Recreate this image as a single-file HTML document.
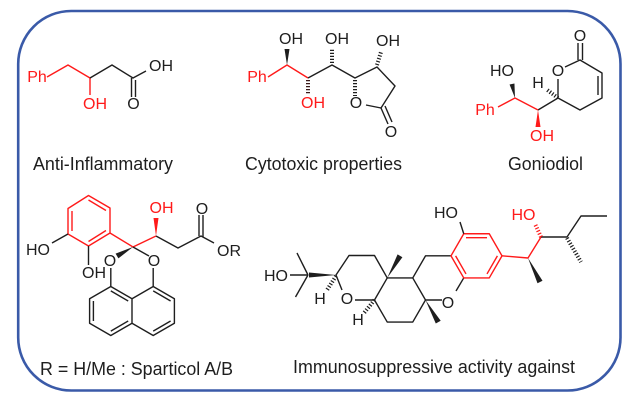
<!DOCTYPE html>
<html><head><meta charset="utf-8"><style>
html,body{margin:0;padding:0;background:#fff;}
svg{display:block;}
text{font-family:"Liberation Sans",Arial,sans-serif;}
.l{font-size:16px;text-anchor:middle;}
.c{font-size:18px;fill:#1e1e1e;}
.k{fill:#1e1e1e;}
.r{fill:#ff1a1a;}
</style></head><body>
<svg width="640" height="405" viewBox="0 0 640 405" xmlns="http://www.w3.org/2000/svg">
<rect x="0" y="0" width="640" height="405" fill="#fff"/>
<rect x="18.2" y="11" width="602.3" height="379.5" rx="53" ry="53" fill="none" stroke="#3a5aa8" stroke-width="2.6"/>

<!-- Molecule 1 -->
<g fill="none" stroke-width="1.4" stroke-linejoin="round">
<polyline points="47,77 68,65 90,78" stroke="#ff1a1a"/>
<line x1="90" y1="78" x2="90" y2="95" stroke="#ff1a1a"/>
<polyline points="90,78 112,65 133,78 146,71" stroke="#1e1e1e"/>
<line x1="131.5" y1="78" x2="131.5" y2="97" stroke="#1e1e1e"/>
<line x1="135.5" y1="80" x2="135.5" y2="97" stroke="#1e1e1e"/>
</g>
<text class="l r" x="37" y="82">Ph</text>
<text class="l r" x="95" y="109">OH</text>
<text class="l k" x="161" y="71">OH</text>
<text class="l k" x="133.5" y="109">O</text>
<text class="c" x="33" y="170" textLength="140" lengthAdjust="spacingAndGlyphs">Anti-Inflammatory</text>

<!-- Molecule 2 -->
<g fill="none" stroke-width="1.4" stroke-linejoin="round">
<polyline points="268,77 287,65 308,78" stroke="#ff1a1a"/>
<polyline points="308,78 332,65 355,78 377,67 395,86 381,108 366,105" stroke="#1e1e1e"/>
<line x1="381" y1="108" x2="388" y2="124" stroke="#1e1e1e"/>
<line x1="385" y1="106" x2="392" y2="122" stroke="#1e1e1e"/>
</g>
<g fill="none" stroke-width="4" stroke-dasharray="1.2 1.8">
<line x1="308" y1="80" x2="308" y2="95" stroke="#3a1a1a"/>
<line x1="332" y1="63" x2="332" y2="49" stroke="#1e1e1e"/>
<line x1="355" y1="80" x2="355" y2="96" stroke="#1e1e1e"/>
<line x1="377" y1="65" x2="381" y2="52" stroke="#1e1e1e"/>
</g>
<polygon points="287,65 284.5,49 289.5,49" fill="#1e1e1e"/>
<text class="l r" x="257" y="82">Ph</text>
<text class="l k" x="291" y="44">OH</text>
<text class="l r" x="313" y="108">OH</text>
<text class="l k" x="337" y="44">OH</text>
<text class="l k" x="356" y="108">O</text>
<text class="l k" x="388" y="46">OH</text>
<text class="l k" x="391" y="137">O</text>
<text class="c" x="245" y="170" textLength="157" lengthAdjust="spacingAndGlyphs">Cytotoxic properties</text>

<!-- Molecule 3 -->
<g fill="none" stroke-width="1.4" stroke-linejoin="round">
<line x1="578" y1="43" x2="578" y2="60" stroke="#1e1e1e"/>
<line x1="582.5" y1="43" x2="582.5" y2="60" stroke="#1e1e1e"/>
<polyline points="565,67 580,60 602,73 602,98 580,110 558,98 538,110" stroke="#1e1e1e"/>
<line x1="558" y1="98" x2="558" y2="79" stroke="#1e1e1e"/>
<line x1="598" y1="76" x2="598" y2="95" stroke="#1e1e1e"/>
<polyline points="538,110 515,98 498,107" stroke="#ff1a1a"/>
</g>
<line x1="558" y1="98" x2="546" y2="89" stroke="#1e1e1e" stroke-width="4" stroke-dasharray="1.2 1.8"/>
<polygon points="538,110 535.5,127 540.5,127" fill="#ff1a1a"/>
<polygon points="515,98 514.45,83.48 509.55,84.52" fill="#1e1e1e"/>
<text class="l k" x="580" y="41">O</text>
<text class="l k" x="558" y="76">O</text>
<text class="l k" x="538" y="88">H</text>
<text class="l k" x="502" y="76">HO</text>
<text class="l r" x="485" y="115">Ph</text>
<text class="l r" x="542" y="141">OH</text>
<text class="c" x="508" y="170" textLength="75" lengthAdjust="spacingAndGlyphs">Goniodiol</text>

<!-- Molecule 4 -->
<g fill="none" stroke-width="1.4" stroke-linejoin="round">
<polygon points="88.5,195.5 110,208 110,233 88.5,246 68,234 68,208.5" stroke="#ff1a1a"/>
<line x1="88.5" y1="200" x2="106" y2="210.5" stroke="#ff1a1a"/>
<line x1="72" y1="231" x2="72" y2="211" stroke="#ff1a1a"/>
<line x1="106" y1="230.5" x2="88.5" y2="241.5" stroke="#ff1a1a"/>
<polyline points="110,233 133,247 156,236" stroke="#ff1a1a"/>
<line x1="68" y1="234" x2="52" y2="243" stroke="#1e1e1e"/>
<line x1="88.5" y1="246" x2="88.5" y2="265" stroke="#1e1e1e"/>
<polyline points="156,236 178,248 201,236 214,243" stroke="#1e1e1e"/>
<line x1="199" y1="236" x2="199" y2="215" stroke="#1e1e1e"/>
<line x1="203" y1="237" x2="203" y2="215" stroke="#1e1e1e"/>
<line x1="133" y1="247" x2="149" y2="256" stroke="#1e1e1e"/>
<line x1="110.8" y1="268" x2="110.8" y2="286.5" stroke="#1e1e1e"/>
<line x1="153.2" y1="268" x2="153.2" y2="286.5" stroke="#1e1e1e"/>
<polygon points="110.8,286.5 132,298.75 132,323.25 110.8,335.5 89.6,323.25 89.6,298.75" stroke="#1e1e1e"/>
<polyline points="132,298.75 153.2,286.5 174.4,298.75 174.4,323.25 153.2,335.5 132,323.25" stroke="#1e1e1e"/>
<line x1="93.4" y1="321" x2="93.4" y2="301" stroke="#1e1e1e"/>
<line x1="110.8" y1="290.9" x2="128.2" y2="301" stroke="#1e1e1e"/>
<line x1="128.2" y1="321" x2="110.8" y2="331.1" stroke="#1e1e1e"/>
<line x1="153.2" y1="290.9" x2="170.6" y2="301" stroke="#1e1e1e"/>
<line x1="170.6" y1="321" x2="153.2" y2="331.1" stroke="#1e1e1e"/>
</g>
<polygon points="133,247 118.4,258.4 115.6,253.6" fill="#1e1e1e"/>
<polygon points="156,236 153.5,218 158.5,218" fill="#ff1a1a"/>
<text class="l k" x="38" y="255">HO</text>
<text class="l k" x="94" y="278">OH</text>
<text class="l r" x="161.5" y="213">OH</text>
<text class="l k" x="202" y="214">O</text>
<text class="l k" x="229" y="256">OR</text>
<text class="l k" x="110" y="266">O</text>
<text class="l k" x="154" y="266">O</text>
<text class="c" x="40" y="375" textLength="193" lengthAdjust="spacingAndGlyphs">R = H/Me : Sparticol A/B</text>

<!-- Molecule 5 -->
<g fill="none" stroke-width="1.4" stroke-linejoin="round">
<line x1="290" y1="275" x2="308" y2="275" stroke="#1e1e1e"/>
<line x1="308" y1="275" x2="297" y2="253" stroke="#1e1e1e"/>
<line x1="308" y1="275" x2="295.5" y2="297" stroke="#1e1e1e"/>
<polyline points="342,290 336,275 349,255.5 374.5,255.5 387.25,277.92 374.5,300 355,300" stroke="#1e1e1e"/>
<polyline points="387.25,277.92 412.75,277.92 425.5,300 412.75,322.08 387.25,322.08 374.5,300" stroke="#1e1e1e"/>
<polyline points="412.75,277.92 425.5,255.84 451,255.84" stroke="#1e1e1e"/>
<line x1="425.5" y1="300" x2="442" y2="300" stroke="#1e1e1e"/>
<line x1="463.75" y1="277.92" x2="456" y2="291" stroke="#1e1e1e"/>
<polygon points="451,255.84 463.75,233.76 489.25,233.76 502,255.84 489.25,277.92 463.75,277.92" stroke="#ff1a1a"/>
<line x1="466" y1="237.7" x2="487" y2="237.7" stroke="#ff1a1a"/>
<line x1="497.4" y1="255.84" x2="487" y2="273.95" stroke="#ff1a1a"/>
<line x1="466" y1="273.95" x2="455.6" y2="255.84" stroke="#ff1a1a"/>
<line x1="463.75" y1="233.76" x2="460" y2="222" stroke="#1e1e1e"/>
<polyline points="502,255.84 528,258 541,237" stroke="#ff1a1a"/>
<polyline points="541,237 567,237 581,216 607,216" stroke="#1e1e1e"/>
</g>
<g fill="none" stroke-width="4" stroke-dasharray="1.2 1.8">
<line x1="336" y1="276" x2="327" y2="290" stroke="#1e1e1e"/>
<line x1="374.5" y1="300" x2="364" y2="313" stroke="#1e1e1e"/>
<line x1="541" y1="237" x2="535" y2="224" stroke="#ff1a1a"/>
<line x1="567" y1="238" x2="581" y2="262" stroke="#1e1e1e"/>
</g>
<polygon points="336,275 309,272.5 309,277.5" fill="#1e1e1e"/>
<polygon points="387.25,277.92 402.4,257.2 397.6,254.4" fill="#1e1e1e"/>
<polygon points="425.5,300 440.7,320.7 435.8,323.5" fill="#1e1e1e"/>
<polygon points="528,258 542.5,280.75 537.5,283.25" fill="#1e1e1e"/>
<text class="l k" x="276" y="281">HO</text>
<text class="l k" x="320" y="304">H</text>
<text class="l k" x="358" y="325">H</text>
<text class="l k" x="347" y="304">O</text>
<text class="l k" x="448" y="308">O</text>
<text class="l k" x="446" y="218">HO</text>
<text class="l r" x="523.5" y="220">HO</text>
<text class="c" x="293" y="373" textLength="282" lengthAdjust="spacingAndGlyphs">Immunosuppressive activity against</text>
</svg>
</body></html>
